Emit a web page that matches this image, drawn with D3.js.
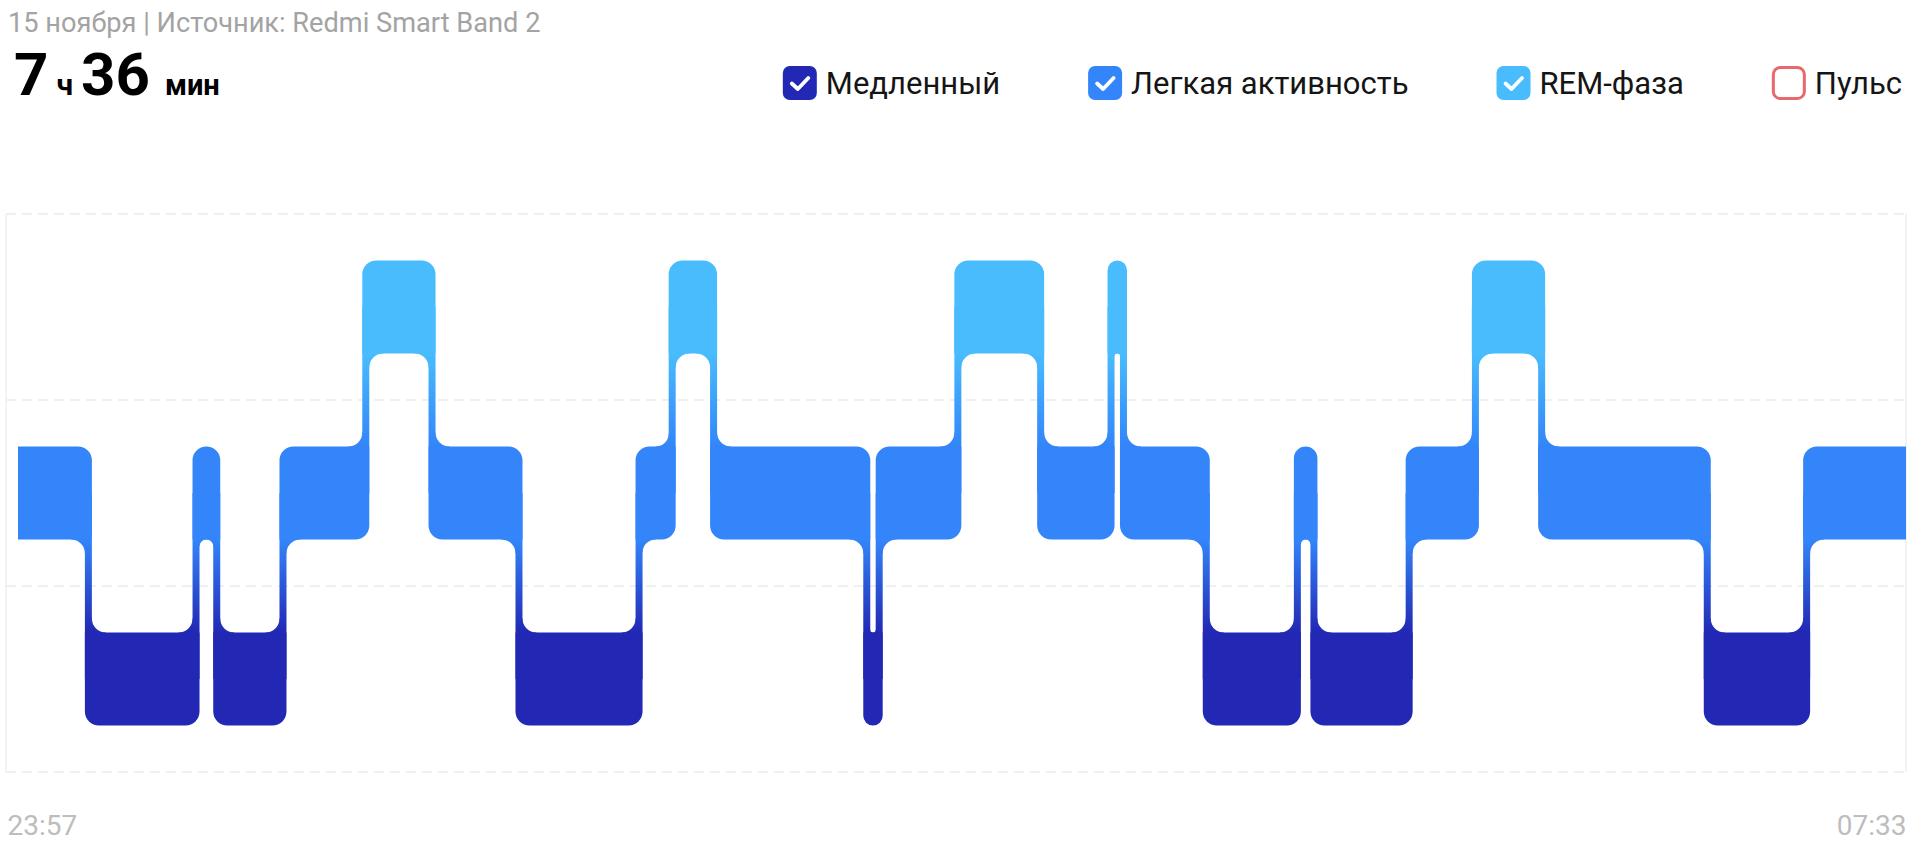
<!DOCTYPE html>
<html>
<head>
<meta charset="utf-8">
<script src="https://cdn.jsdelivr.net/npm/d3@7"></script>
<style>
    body { margin: 0; background: #fff; }
    svg { display: block; font-family: Roboto, "Noto Sans", sans-serif; }
</style>
</head>
<body>
<div id="chart"></div>
<script>
// stages, top to bottom
var stageKeys = ["rem", "light", "deep"];
var stageColors = ["#48bcfd", "#3385f9", "#2228b4"];

// sleep segments: start time and stage
var segStart = ["23:57", "00:14", "00:40", "00:45", "01:01", "01:21", "01:37", "01:58",
    "02:27", "02:35", "02:45", "03:22", "03:25", "03:44", "04:04", "04:21", "04:24",
    "04:44", "05:06", "05:10", "05:33", "05:49", "06:05", "06:45", "07:09"];
var segStage = ["light", "deep", "light", "deep", "light", "rem", "light", "deep",
    "light", "rem", "light", "deep", "light", "rem", "light", "rem", "light",
    "deep", "light", "deep", "light", "rem", "light", "deep", "light"];
var sleepEnd = "07:33";

var legendLabels = ["Медленный", "Легкая активность", "REM-фаза", "Пульс"];
var legendChecked = [true, true, true, false];
var legendColors = ["#2228b4", "#3385f9", "#48bcfd", "#e8696b"];

var titleText = "15 ноября | Источник: Redmi Smart Band 2";
var durationValues = ["7", "36"];
var durationUnits = ["ч", "мин"];

var width = 1924, height = 853;
var connW = 7, radius = 14;

var svg = d3.select("#chart").append("svg")
    .attr("width", width)
    .attr("height", height);

var parseTime = d3.timeParse("%H:%M");
var fmtTime = d3.timeFormat("%H:%M");
function toDate(s) {
    var d = parseTime(s);
    if (d.getHours() < 12) d = d3.timeDay.offset(d, 1);
    return d;
}

var segs = segStart.map(function (s, i) {
    return {
        stage: segStage[i],
        t0: toDate(s),
        t1: toDate(i < segStart.length - 1 ? segStart[i + 1] : sleepEnd)
    };
});

var x = d3.scaleTime()
    .domain([toDate(segStart[0]), toDate(sleepEnd)])
    .range([18, 1906]);

var y = d3.scaleBand()
    .domain(stageKeys)
    .range([214, 772])
    .paddingInner(0.5)
    .paddingOuter(0.25);
var bw = y.bandwidth();
var yTop = y.range()[0], yBot = y.range()[1];

// header
svg.append("text")
    .attr("x", 8)
    .attr("y", 32)
    .attr("font-size", 27.2)
    .attr("fill", "#a3a3a3")
    .text(titleText);

var dur = svg.append("text")
    .attr("x", 14)
    .attr("y", 95)
    .attr("font-weight", "bold")
    .attr("fill", "#000");
dur.append("tspan").attr("font-size", 60).text(durationValues[0]);
dur.append("tspan").attr("font-size", 30).attr("dx", 8).text(durationUnits[0]);
dur.append("tspan").attr("font-size", 60).attr("dx", 8).text(durationValues[1]);
dur.append("tspan").attr("font-size", 29).attr("dx", 15).text(durationUnits[1]);

// legend, laid out from the right
var legend = svg.append("g");
var items = legend.selectAll(".item")
    .data(legendLabels)
    .enter().append("g")
    .attr("class", "item");
items.append("text")
    .attr("y", 94)
    .attr("font-size", 31)
    .attr("fill", "#151515")
    .text(function (d) { return d; });

var xEnd = 1902;
var boxSize = 34;
var pos = [];
for (var i = legendLabels.length - 1; i >= 0; i--) {
    var tw = items.nodes()[i].querySelector("text").getComputedTextLength();
    var tx = xEnd - tw;
    pos[i] = tx - 43;
    xEnd = pos[i] - 88;
}
items.select("text").attr("x", function (d, i) { return pos[i] + 43; });
items.append("rect")
    .attr("x", function (d, i) { return legendChecked[i] ? pos[i] : pos[i] + 1.5; })
    .attr("y", function (d, i) { return legendChecked[i] ? 66 : 67.5; })
    .attr("width", function (d, i) { return legendChecked[i] ? boxSize : boxSize - 3; })
    .attr("height", function (d, i) { return legendChecked[i] ? boxSize : boxSize - 3; })
    .attr("rx", 7)
    .attr("fill", function (d, i) { return legendChecked[i] ? legendColors[i] : "#fff"; })
    .attr("stroke", function (d, i) { return legendChecked[i] ? "none" : legendColors[i]; })
    .attr("stroke-width", 3);
items.filter(function (d, i) { return legendChecked[i]; })
    .append("path")
    .attr("d", function (d) {
        var i = legendLabels.indexOf(d), bx = pos[i], by = 66;
        return "M" + (bx + 9) + "," + (by + 17.5) + "L" + (bx + 15) + "," + (by + 23)
            + "L" + (bx + 25.5) + "," + (by + 12);
    })
    .attr("fill", "none")
    .attr("stroke", "#fff")
    .attr("stroke-width", 3.8)
    .attr("stroke-linecap", "round")
    .attr("stroke-linejoin", "round");

// grid
var grid = svg.append("g");
grid.selectAll(".hline")
    .data(d3.range(stageKeys.length + 1))
    .enter().append("line")
    .attr("x1", x.range()[0] - 12)
    .attr("x2", x.range()[1])
    .attr("y1", function (d) { return yTop + d * y.step(); })
    .attr("y2", function (d) { return yTop + d * y.step(); })
    .attr("stroke", "#ececec")
    .attr("stroke-width", 1.5)
    .attr("stroke-dasharray", "10,6");
grid.selectAll(".vline")
    .data([x.range()[0] - 12, x.range()[1]])
    .enter().append("line")
    .attr("x1", function (d) { return d; })
    .attr("x2", function (d) { return d; })
    .attr("y1", yTop)
    .attr("y2", yBot)
    .attr("stroke", "#efefef")
    .attr("stroke-width", 1.5);

// one vertical gradient for all stage shapes
var defs = svg.append("defs");
var grad = defs.append("linearGradient")
    .attr("id", "stageFill")
    .attr("gradientUnits", "userSpaceOnUse")
    .attr("x1", 0).attr("x2", 0)
    .attr("y1", yTop).attr("y2", yBot);
var stops = [];
stageKeys.forEach(function (k, i) {
    stops.push({ o: (y(k) - yTop) / (yBot - yTop), c: stageColors[i] });
    stops.push({ o: (y(k) + bw - yTop) / (yBot - yTop), c: stageColors[i] });
});
grad.selectAll("stop")
    .data(stops)
    .enter().append("stop")
    .attr("offset", function (d) { return d.o; })
    .attr("stop-color", function (d) { return d.c; });

var level = function (s) { return stageKeys.indexOf(s); };
var n = segs.length;
var cx = segs.slice(0, n - 1).map(function (d) { return x(d.t1); });

function leftLimit(j) { return j === 0 ? x.range()[0] : cx[j - 1] + connW / 2; }
function rightLimit(j) { return j === n - 1 ? x.range()[1] : cx[j] - connW / 2; }

function roundedRect(x0, y0, x1, y1, tl, tr, br, bl) {
    var p = d3.path();
    p.moveTo(x0 + tl, y0);
    p.arcTo(x1, y0, x1, y0 + tr, tr);
    p.arcTo(x1, y1, x1 - br, y1, br);
    p.arcTo(x0, y1, x0, y1 - bl, bl);
    p.arcTo(x0, y0, x0 + tl, y0, tl);
    p.closePath();
    return p.toString();
}

function fillet(px, py, dx, dy, r) {
    var o = 1.5;
    var p = d3.path();
    p.moveTo(px - dx * o, py - dy * o);
    p.lineTo(px + dx * r, py - dy * o);
    p.lineTo(px + dx * r, py);
    p.arcTo(px, py, px, py + dy * r, r);
    p.lineTo(px - dx * o, py + dy * r);
    p.closePath();
    return p.toString();
}

var shapes = [];

// segments
segs.forEach(function (d, j) {
    var x0 = j === 0 ? x(d.t0) : x(d.t0) - connW / 2;
    var x1 = j === n - 1 ? x(d.t1) : x(d.t1) + connW / 2;
    var r = Math.min(radius, (x1 - x0) / 2);
    var lv = level(d.stage);
    var tl = r, tr = r, br = r, bl = r;
    if (j === 0) { tl = 0; bl = 0; }
    else if (level(segs[j - 1].stage) > lv) { bl = 0; }
    else { tl = 0; }
    if (j === n - 1) { tr = 0; br = 0; }
    else if (level(segs[j + 1].stage) > lv) { br = 0; }
    else { tr = 0; }
    shapes.push(roundedRect(x0, y(d.stage), x1, y(d.stage) + bw, tl, tr, br, bl));
});

// connectors and their fillets
cx.forEach(function (c, i) {
    var a = segs[i], b = segs[i + 1];
    var ya = y(a.stage), yb = y(b.stage);
    var top = Math.min(ya, yb) + bw / 2, bot = Math.max(ya, yb) + bw / 2;
    var p = d3.path();
    p.rect(c - connW / 2, top, connW, bot - top);
    shapes.push(p.toString());

    var availL = (c - connW / 2) - leftLimit(i);
    var availR = rightLimit(i + 1) - (c + connW / 2);
    var rl = Math.min(radius, availL / 2), rr = Math.min(radius, availR / 2);
    var down = level(b.stage) > level(a.stage);
    if (down) {
        if (rl > 0.5) shapes.push(fillet(c - connW / 2, ya + bw, -1, 1, rl));
        if (rr > 0.5) shapes.push(fillet(c + connW / 2, yb, 1, -1, rr));
    } else {
        if (rl > 0.5) shapes.push(fillet(c - connW / 2, ya, -1, -1, rl));
        if (rr > 0.5) shapes.push(fillet(c + connW / 2, yb + bw, 1, 1, rr));
    }
});

svg.append("g")
    .selectAll("path")
    .data(shapes)
    .enter().append("path")
    .attr("d", function (d) { return d; })
    .attr("fill", "url(#stageFill)");

// time axis: only start and end
var axis = svg.append("g")
    .attr("transform", "translate(0," + 808 + ")")
    .call(d3.axisBottom(x).tickValues(x.domain()).tickFormat(fmtTime).tickSize(0));
axis.select(".domain").remove();
axis.selectAll("text")
    .attr("font-family", "Roboto, sans-serif")
    .attr("font-size", 28)
    .attr("fill", "#bdbdbd")
    .attr("dy", 0)
    .attr("y", 27)
    .attr("text-anchor", function (d, i) { return i === 0 ? "start" : "end"; })
    .attr("x", function (d, i) { return i === 0 ? -11 : 0; });
</script>
</body>
</html>
